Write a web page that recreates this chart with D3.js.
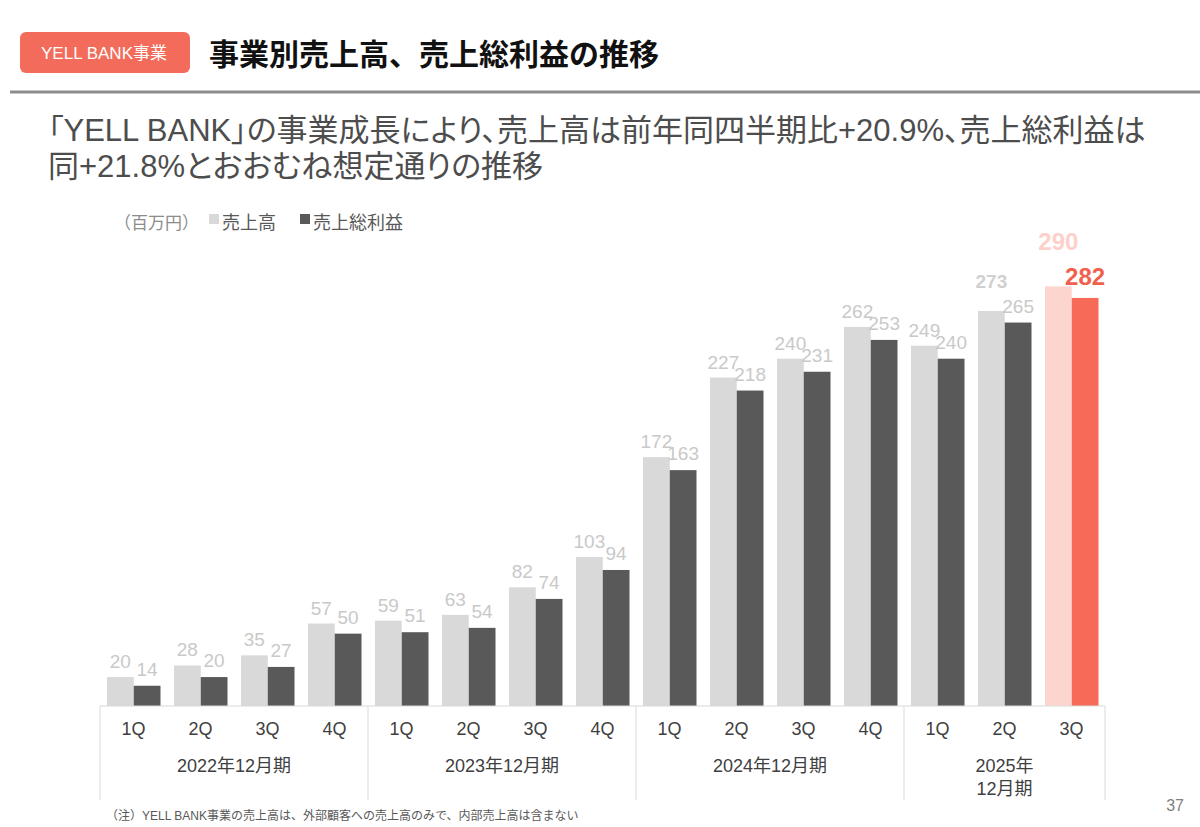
<!DOCTYPE html>
<html>
<head>
<meta charset="utf-8">
<script src="https://cdn.jsdelivr.net/npm/d3@7/dist/d3.min.js"></script>
<style>
  body { margin: 0; background: #fff; }
  svg { display: block; font-family: "Liberation Sans", "Noto Sans CJK JP", sans-serif; }
</style>
</head>
<body>
<div id="graf"></div>
<script>
// I. Datos
quarters = ['1Q','2Q','3Q','4Q','1Q','2Q','3Q','4Q','1Q','2Q','3Q','4Q','1Q','2Q','3Q']
fiscalYears = [['2022年12月期'], ['2023年12月期'], ['2024年12月期'], ['2025年', '12月期']]
yearCounts = [4, 4, 4, 3]
sales = [20, 28, 35, 57, 59, 63, 82, 103, 172, 227, 240, 262, 249, 273, 290]
grossProfit = [14, 20, 27, 50, 51, 54, 74, 94, 163, 218, 231, 253, 240, 265, 282]
seriesNames = ['売上高', '売上総利益']

// II. Configuración
ancho_total = 1200
alto_total = 827

svg = d3.select('#graf').append('svg')
        .attr('width', ancho_total)
        .attr('height', alto_total)

base = 706

x = d3.scaleBand()
      .domain(d3.range(quarters.length))
      .range([100, 1105])

xs = d3.scaleBand()
       .domain(['s', 'g'])
       .range([7, 60.5])

y = d3.scaleLinear()
      .domain([0, 290])
      .range([base, base - 290 * 1.447])

// encabezado
svg.append('rect')
   .attr('x', 20).attr('y', 32)
   .attr('width', 170).attr('height', 41)
   .attr('rx', 6)
   .style('fill', '#f36b5a')

svg.append('text')
   .attr('x', 104).attr('y', 59)
   .attr('text-anchor', 'middle')
   .style('font-size', '17px')
   .style('fill', '#fff')
   .text('YELL BANK事業')

svg.append('text')
   .attr('x', 209).attr('y', 65)
   .style('font-size', '30px')
   .style('font-weight', 'bold')
   .style('font-family', '"Noto Sans CJK JP", sans-serif')
   .style('fill', '#111')
   .text('事業別売上高、売上総利益の推移')

svg.append('line')
   .attr('x1', 10).attr('x2', 1200)
   .attr('y1', 92).attr('y2', 92)
   .style('stroke', '#8c8c8c')
   .style('stroke-width', 3)

subtitulo = ['「YELL BANK」の事業成長により、売上高は前年同四半期比+20.9%、売上総利益は',
             '同+21.8%とおおむね想定通りの推移']
svg.selectAll('.sub')
   .data(subtitulo)
   .enter().append('text')
     .attr('class', 'sub')
     .attr('x', 48)
     .attr('y', (d, i) => 141 + i * 36)
     .style('font-size', '31px')
     .style('font-feature-settings', '"palt"')
     .style('fill', '#4d4d4d')
     .text(d => d)

// leyenda
svg.append('text')
   .attr('x', 114).attr('y', 229)
   .style('font-size', '17px')
   .style('fill', '#8c8c8c')
   .text('（百万円）')

leyenda = [{ x: 209, color: '#d9d9d9' }, { x: 300, color: '#595959' }]
leyenda.forEach((d, i) => {
  svg.append('rect')
     .attr('x', d.x).attr('y', 214)
     .attr('width', 10).attr('height', 10)
     .style('fill', d.color)
  svg.append('text')
     .attr('x', d.x + 13).attr('y', 229)
     .style('font-size', '18px')
     .style('fill', '#595959')
     .text(seriesNames[i])
})

// III. Barras
datos = sales.map((s, i) => ({ i: i, s: s, g: grossProfit[i] }))

colorS = i => i === 14 ? '#fdd5cf' : '#d9d9d9'
colorG = i => i === 14 ? '#f66a57' : '#595959'

g = svg.append('g')

g.selectAll('.bar-s')
 .data(datos)
 .enter().append('rect')
   .attr('class', 'bar-s')
   .attr('x', d => x(d.i) + xs('s'))
   .attr('width', xs.bandwidth())
   .attr('y', d => y(d.s))
   .attr('height', d => base - y(d.s))
   .style('fill', d => colorS(d.i))

g.selectAll('.bar-g')
 .data(datos)
 .enter().append('rect')
   .attr('class', 'bar-g')
   .attr('x', d => x(d.i) + xs('g'))
   .attr('width', xs.bandwidth())
   .attr('y', d => y(d.g))
   .attr('height', d => base - y(d.g))
   .style('fill', d => colorG(d.i))

// etiquetas
function estiloS(d) {
  if (d.i === 14) return { dy: -36, size: 24, bold: true, fill: '#fdd0c9' }
  if (d.i === 13) return { dy: -23, size: 19, bold: true, fill: '#d0d0d0' }
  return { dy: -9, size: 19, bold: false, fill: '#c9c9c9' }
}
function estiloG(d) {
  if (d.i === 14) return { dy: -13, size: 24, bold: true, fill: '#f0604c' }
  return { dy: -10, size: 19, bold: false, fill: '#c9c9c9' }
}

g.selectAll('.lab-s')
 .data(datos)
 .enter().append('text')
   .attr('class', 'lab-s')
   .attr('x', d => x(d.i) + xs('s') + xs.bandwidth() / 2)
   .attr('y', d => y(d.s) + estiloS(d).dy)
   .attr('text-anchor', 'middle')
   .style('font-size', d => estiloS(d).size + 'px')
   .style('font-weight', d => estiloS(d).bold ? 'bold' : 'normal')
   .style('fill', d => estiloS(d).fill)
   .text(d => d.s)

g.selectAll('.lab-g')
 .data(datos)
 .enter().append('text')
   .attr('class', 'lab-g')
   .attr('x', d => x(d.i) + xs('g') + xs.bandwidth() / 2)
   .attr('y', d => y(d.g) + estiloG(d).dy)
   .attr('text-anchor', 'middle')
   .style('font-size', d => estiloG(d).size + 'px')
   .style('font-weight', d => estiloG(d).bold ? 'bold' : 'normal')
   .style('fill', d => estiloG(d).fill)
   .text(d => d.g)

// IV. Eje
eje = svg.append('g')

eje.append('line')
   .attr('x1', x(0)).attr('x2', x(quarters.length - 1) + x.bandwidth())
   .attr('y1', base).attr('y2', base)
   .style('stroke', '#d9d9d9')

bordes = [0]
yearCounts.forEach(n => bordes.push(bordes[bordes.length - 1] + n))

eje.selectAll('.sep')
   .data(bordes)
   .enter().append('line')
     .attr('class', 'sep')
     .attr('x1', d => d < quarters.length ? x(d) : x(d - 1) + x.bandwidth())
     .attr('x2', d => d < quarters.length ? x(d) : x(d - 1) + x.bandwidth())
     .attr('y1', base).attr('y2', 800)
     .style('stroke', '#d9d9d9')

eje.selectAll('.q')
   .data(quarters)
   .enter().append('text')
     .attr('class', 'q')
     .attr('x', (d, i) => x(i) + x.bandwidth() / 2)
     .attr('y', 735)
     .attr('text-anchor', 'middle')
     .style('font-size', '18px')
     .style('fill', '#404040')
     .text(d => d)

fiscalYears.forEach((lineas, k) => {
  cx = (x(bordes[k]) + x(bordes[k + 1] - 1) + x.bandwidth()) / 2
  lineas.forEach((t, j) => {
    eje.append('text')
       .attr('x', cx)
       .attr('y', 772 + j * 23)
       .attr('text-anchor', 'middle')
       .style('font-size', '18px')
       .style('fill', '#404040')
       .text(t)
  })
})

// notas
svg.append('text')
   .attr('x', 106).attr('y', 820)
   .style('font-size', '12px')
   .style('fill', '#595959')
   .text('（注）YELL BANK事業の売上高は、外部顧客への売上高のみで、内部売上高は含まない')

svg.append('text')
   .attr('x', 1184).attr('y', 811)
   .attr('text-anchor', 'end')
   .style('font-size', '16px')
   .style('fill', '#808080')
   .text('37')
</script>
</body>
</html>
